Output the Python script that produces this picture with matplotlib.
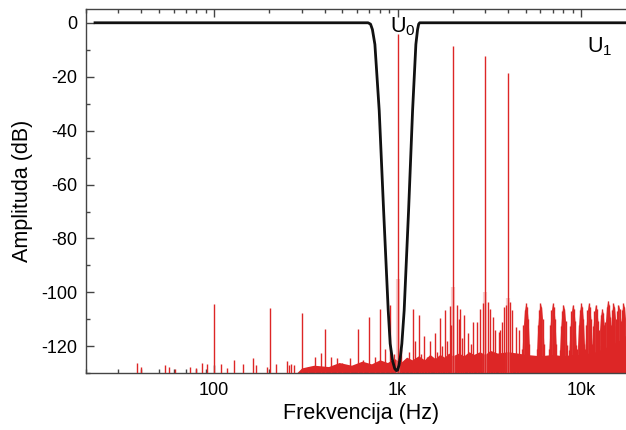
import matplotlib
matplotlib.use("Agg")
import matplotlib.pyplot as plt
from matplotlib.ticker import FixedLocator, FixedFormatter, NullFormatter, LogLocator

plt.rcParams['font.family'] = ['Liberation Sans', 'DejaVu Sans']
plt.rcParams['axes.unicode_minus'] = False
plt.rcParams['mathtext.fontset'] = 'custom'
plt.rcParams['mathtext.rm'] = 'Liberation Sans'
plt.rcParams['mathtext.it'] = 'Liberation Sans'

# ---- Data ----
# Notch filter response U0 (black)
notch_freq = [22.4, 690, 712, 729, 752, 794, 839, 889, 911, 940, 965, 985, 1000, 1018,
              1035, 1055, 1086, 1148, 1207, 1258, 1285, 1303, 1320, 20000]
notch_db = [0, 0, -0.5, -2.5, -8, -32.6, -69.6, -106.7, -119, -125.5, -128.3, -129, -128.8, -127,
            -124, -119, -106.7, -69.6, -32.6, -8, -2.5, -0.5, 0, 0]

# Main harmonics of the test tone (red)
harm_freq = [1000, 2000, 3000, 4000]
harm_db = [-4.3, -8.5, -12.4, -18.5]
harm_halo_db = [-95, -98, -100, -102]

# Individual small spurs (red)
spur_freq = [38, 40, 54, 57, 61, 74, 80, 86, 91, 100, 109, 118, 129, 143, 163, 170, 193, 201,
             218, 248, 255, 262, 272, 300, 323, 355, 382, 403, 433, 470, 500, 552, 605, 650,
             700, 750, 804, 850, 908, 950, 1050, 1100, 1150, 1207, 1250, 1302, 1350, 1397,
             1450, 1500, 1597, 1650, 1700, 1750, 1810, 1860, 1920, 1960, 2105, 2150, 2194,
             2250, 2307, 2425, 2500, 2585, 2705, 2797, 2918, 3115, 3200, 3320, 3390, 3580,
             3610, 3700, 3810, 3906, 4110, 4230, 4418, 4600]
spur_db = [-126.3, -127.5, -127, -127.5, -128.4, -127.6, -128, -126, -126.5, -104.4, -126.5,
           -128, -125, -126.5, -124.5, -127, -127.5, -105.6, -126.5, -125.4, -127, -126.5,
           -127, -107.8, -127.5, -124, -122.5, -113.6, -124, -124.5, -126, -124.5, -113.6,
           -125, -109, -124, -106.2, -121, -104.7, -123, -121, -125, -122, -106.2, -118,
           -108.4, -123, -116, -124, -118, -115, -122, -109.5, -120, -106.5, -118, -105,
           -112, -104.5, -110, -106, -117, -108.5, -115, -119, -111, -111, -106, -104,
           -103.5, -106, -109, -113.8, -114.5, -114, -111, -105.5, -104.6, -103.7, -106.4,
           -113, -114]

# Harmonic clusters above 4 kHz (red lobes)
lobe_freq = [5000, 6000, 7000, 8000, 9000, 10000, 11000, 12000, 13000, 14000, 15000, 16000, 17000]
lobe_db = [-104, -104, -104, -104.5, -104.5, -104, -104, -104.5, -106, -103, -104, -104.5, -104]
lobe_offset_frac = [-0.045, -0.03, -0.015, 0, 0.015, 0.03, 0.045]
lobe_drop_db = [-17, -8, -2.5, 0, -1.5, -6, -15]

# Noise floor envelope (red fill)
floor_freq = [20, 280, 300, 350, 420, 480, 560, 640, 720, 800, 880, 960, 1040, 1120, 1200,
              1300, 1400, 1500, 1600, 1700, 1800, 1900, 2000, 2150, 2300, 2450, 2600, 2800,
              3000, 3200, 3500, 4000, 4500, 5000, 6000, 7000, 8000, 9000, 10000, 11000,
              12000, 13000, 14000, 15000, 16000, 17000, 18000, 20000]
floor_db = [-130, -130, -128, -127, -127.5, -126, -127, -125.5, -126.5, -125, -126,
            -124.5, -126, -124, -125, -123.5, -125, -123, -124.5, -123, -124, -122.5,
            -123.5, -122.5, -123.5, -122, -123, -122, -123, -121.5, -122.5, -122, -122.5,
            -123, -123.5, -123, -123.5, -123, -123, -122.5, -122, -121, -120,
            -119, -118, -116.5, -115.5, -114.5]

x_ticks = [100, 1000, 10000]
x_ticklabels = ['100', '1k', '10k']
y_ticks = [0, -20, -40, -60, -80, -100, -120]
y_ticklabels = ['0', '-20', '-40', '-60', '-80', '-100', '-120']

# ---- Figure ----
red = '#dd2626'
fig = plt.figure(figsize=(6.26, 4.30), dpi=100)
ax = fig.add_axes([86 / 626, 1 - 373.3 / 430, 550.2 / 626, 364 / 430])
ax.set_xscale('log')
ax.set_xlim(20, 20000)
ax.set_ylim(-130, 5)

base = -130
ax.fill_between(floor_freq, base, floor_db, color=red, lw=0, zorder=2)

for f, d in zip(lobe_freq, lobe_db):
    xs = [f * (1 + o) for o in lobe_offset_frac]
    ys = [d + dd for dd in lobe_drop_db]
    ax.fill_between(xs, base, ys, color=red, lw=0, alpha=0.9, zorder=2)
    ax.vlines(xs, base, ys, color=red, lw=1.0, zorder=2)

ax.vlines(spur_freq, base, spur_db, color=red, lw=1.0, zorder=3)
ax.vlines(harm_freq, base, harm_halo_db, color='#f0a0a0', lw=3, alpha=0.5, zorder=2)
ax.vlines(harm_freq, base, harm_db, color=red, lw=1.0, zorder=3)

ax.plot(notch_freq, notch_db, color='#111111', lw=2.0, zorder=5, solid_joinstyle='round')

ax.text(905, -3.6, r'U$_\mathregular{0}$', fontsize=15.5, ha='left', va='baseline', zorder=6)
ax.text(10800, -11, r'U$_\mathregular{1}$', fontsize=15.5, ha='left', va='baseline', zorder=6)

# Axes styling
spine_c = '#444444'
for s in ['left', 'bottom', 'top']:
    ax.spines[s].set_color(spine_c)
    ax.spines[s].set_linewidth(1.0)
ax.spines['right'].set_visible(False)

ax.xaxis.set_major_locator(FixedLocator(x_ticks))
ax.xaxis.set_major_formatter(FixedFormatter(x_ticklabels))
ax.xaxis.set_minor_locator(LogLocator(base=10, subs=range(2, 10), numticks=20))
ax.xaxis.set_minor_formatter(NullFormatter())
ax.yaxis.set_major_locator(FixedLocator(y_ticks))
ax.yaxis.set_major_formatter(FixedFormatter(y_ticklabels))
ax.yaxis.set_minor_locator(FixedLocator([-10, -30, -50, -70, -90, -110, -130]))

ax.tick_params(which='both', direction='in', top=True, right=False, color=spine_c,
               labelsize=13, width=1.0)
ax.tick_params(which='major', length=5.5, pad=6)
ax.tick_params(which='minor', length=2.8)

ax.set_xlabel('Frekvencija (Hz)', fontsize=15.5, labelpad=3)
ax.set_ylabel('Amplituda (dB)', fontsize=15.5, labelpad=6)

fig.savefig('out.png', dpi=100)
